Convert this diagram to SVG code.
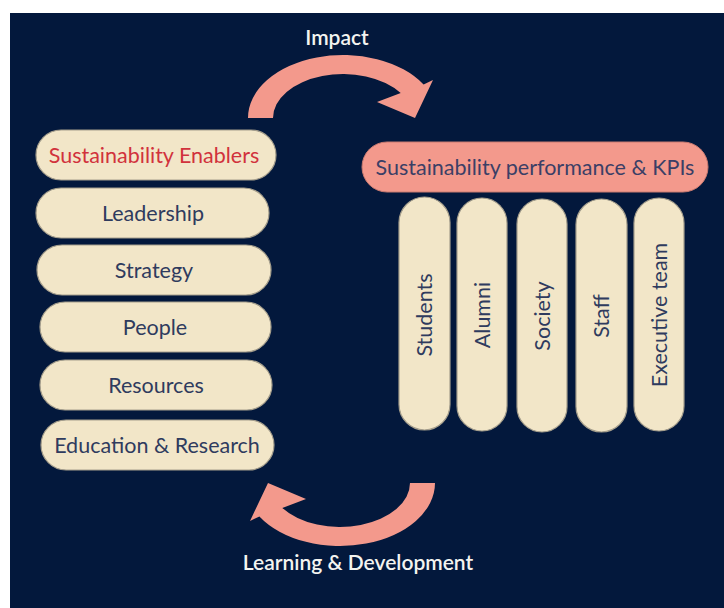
<svg xmlns="http://www.w3.org/2000/svg" width="724" height="608" viewBox="0 0 724 608">
<style>
.bg{fill:#03183c}
.pill{fill:#f2e6c8;stroke:#a59e8c;stroke-width:1.2}
.kpi{fill:#f3998c;stroke:#c97a70;stroke-width:1}
.t{font-family:Lato,"Liberation Sans",sans-serif;font-size:21.5px;fill:#2f3b5e;text-anchor:middle}
.red{fill:#d1323c}
.kt{fill:#3b3f66}
.lab{font-family:Lato,"Liberation Sans",sans-serif;font-size:21px;font-weight:600;fill:#f4f4f0;text-anchor:middle}
.arr{fill:#f3998c}
</style>
<defs>
<path id="curve" d="M248,118 A95,63 0 0 1 423.6,84.6 L433,80 L415,118 L377,102 L400.7,93.1 A70,44 0 0 0 273,118 Z"/>
</defs>
<rect width="724" height="608" fill="#ffffff"/>
<rect class="bg" x="10" y="13" width="714" height="595"/>
<g id="connectors">
<use href="#curve" class="arr"/>
<use href="#curve" class="arr" transform="rotate(180 341.5 300.5)"/>
</g>
<g id="label-impact"><text class="lab" x="337" y="45">Impact</text></g>
<g id="label-learning"><text class="lab" x="358" y="570">Learning &amp; Development</text></g>
<g id="enablers"><rect class="pill" x="36" y="130" width="240" height="50" rx="25"/><text class="t red" x="154" y="162.5">Sustainability Enablers</text></g>
<g id="leadership"><rect class="pill" x="36" y="188" width="233" height="50" rx="25"/><text class="t" x="153" y="220.5">Leadership</text></g>
<g id="strategy"><rect class="pill" x="37" y="245" width="234" height="50" rx="25"/><text class="t" x="154" y="277.5">Strategy</text></g>
<g id="people"><rect class="pill" x="40" y="302" width="231" height="50" rx="25"/><text class="t" x="155" y="334.5">People</text></g>
<g id="resources"><rect class="pill" x="40" y="360" width="232" height="50" rx="25"/><text class="t" x="156" y="392.5">Resources</text></g>
<g id="education"><rect class="pill" x="41" y="420" width="233" height="50" rx="25"/><text class="t" x="157" y="452.5">Education &amp; Research</text></g>
<g id="kpis"><rect class="kpi" x="362" y="142" width="346" height="50" rx="25"/><text class="t kt" x="535" y="174.5">Sustainability performance &amp; KPIs</text></g>
<g id="students"><rect class="pill" x="399" y="197" width="51" height="233" rx="25.5"/><text class="t" transform="translate(432 315) rotate(-90)">Students</text></g>
<g id="alumni"><rect class="pill" x="457" y="198" width="50" height="233" rx="25"/><text class="t" transform="translate(489.5 315) rotate(-90)">Alumni</text></g>
<g id="society"><rect class="pill" x="517" y="199" width="50" height="233" rx="25"/><text class="t" transform="translate(549.5 316) rotate(-90)">Society</text></g>
<g id="staff"><rect class="pill" x="576" y="199" width="51" height="233" rx="25.5"/><text class="t" transform="translate(609 316) rotate(-90)">Staff</text></g>
<g id="executive"><rect class="pill" x="634" y="198" width="50" height="233" rx="25"/><text class="t" transform="translate(666.5 315) rotate(-90)">Executive team</text></g>
</svg>
